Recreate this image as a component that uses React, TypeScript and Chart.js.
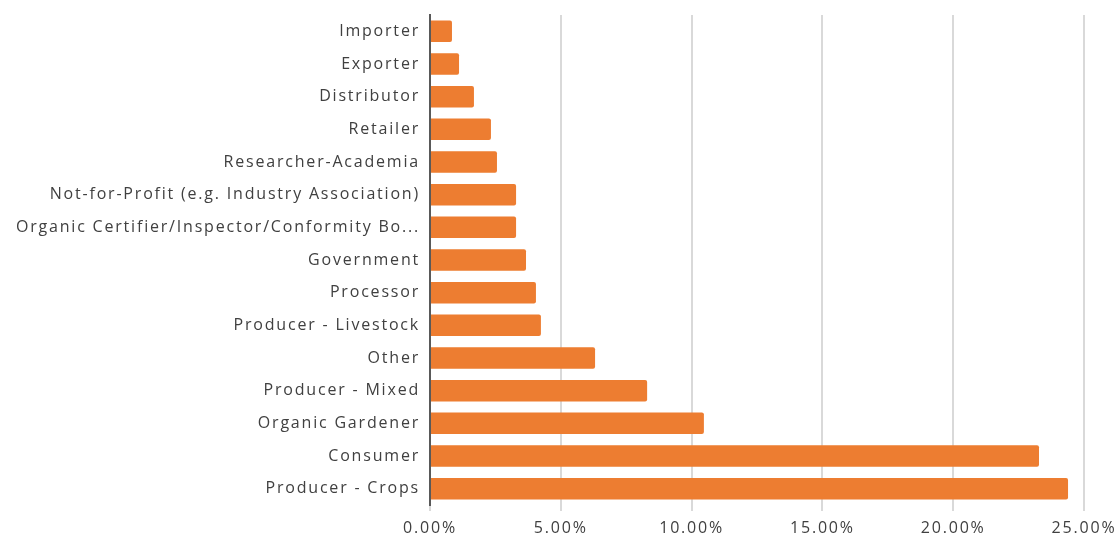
import React, { useEffect, useRef } from "react";
import { Chart, registerables } from "chart.js";

Chart.register(...registerables);

const categories = [
  "Importer",
  "Exporter",
  "Distributor",
  "Retailer",
  "Researcher-Academia",
  "Not-for-Profit (e.g. Industry Association)",
  "Organic Certifier/Inspector/Conformity Bo...",
  "Government",
  "Processor",
  "Producer - Livestock",
  "Other",
  "Producer - Mixed",
  "Organic Gardener",
  "Consumer",
  "Producer - Crops",
];

const shares = [0.84, 1.11, 1.68, 2.33, 2.56, 3.29, 3.29, 3.67, 4.05, 4.24, 6.31, 8.3, 10.47, 23.28, 24.39];

const xTickMin = 0;
const xTickMax = 25;
const xTickStep = 5;

const spacingPlugin = {
  id: "letterSpacing",
  beforeDraw: (chart: any) => {
    chart.ctx.letterSpacing = "1.8px";
  },
};

export default function App() {
  const canvasRef = useRef<HTMLCanvasElement | null>(null);

  useEffect(() => {
    document.body.style.margin = "0";
    const canvas = canvasRef.current;
    if (!canvas) return;
    const chart = new Chart(canvas, {
      type: "bar",
      data: {
        labels: categories,
        datasets: [
          {
            data: shares,
            backgroundColor: "#ED7D31",
            borderRadius: 2,
            borderSkipped: "start",
            barPercentage: 0.66,
            categoryPercentage: 1,
          },
        ],
      },
      plugins: [spacingPlugin],
      options: {
        indexAxis: "y",
        animation: false,
        responsive: false,
        maintainAspectRatio: false,
        layout: { padding: { top: 15, right: 36, bottom: 0, left: 0 } },
        plugins: { legend: { display: false }, tooltip: { enabled: false } },
        scales: {
          x: {
            min: xTickMin,
            max: xTickMax,
            ticks: {
              stepSize: xTickStep,
              callback: (v: any) => Number(v).toFixed(2) + "%",
              color: "#404040",
              font: { family: "Open Sans", size: 16 },
              padding: 8,
            },
            grid: {
              color: "#d9d9d9",
              lineWidth: 2,
              drawTicks: true,
              tickLength: 6,
              tickColor: "#d9d9d9",
            },
            border: { display: false },
            afterFit: (scale: any) => {
              scale.height = 34;
            },
          },
          y: {
            ticks: {
              color: "#404040",
              font: { family: "Open Sans", size: 16 },
              padding: 10,
              autoSkip: false,
            },
            grid: { display: false, drawTicks: false },
            border: { display: true, color: "#595959", width: 2 },
            afterFit: (scale: any) => {
              scale.width = 430;
              scale.paddingTop = 0;
              scale.paddingBottom = 0;
            },
          },
        },
      },
    });
    return () => chart.destroy();
  }, []);

  return (
    <div style={{ width: 1120, height: 539, background: "#fff" }}>
      <canvas ref={canvasRef} width={1120} height={539} style={{ display: "block" }} />
    </div>
  );
}
